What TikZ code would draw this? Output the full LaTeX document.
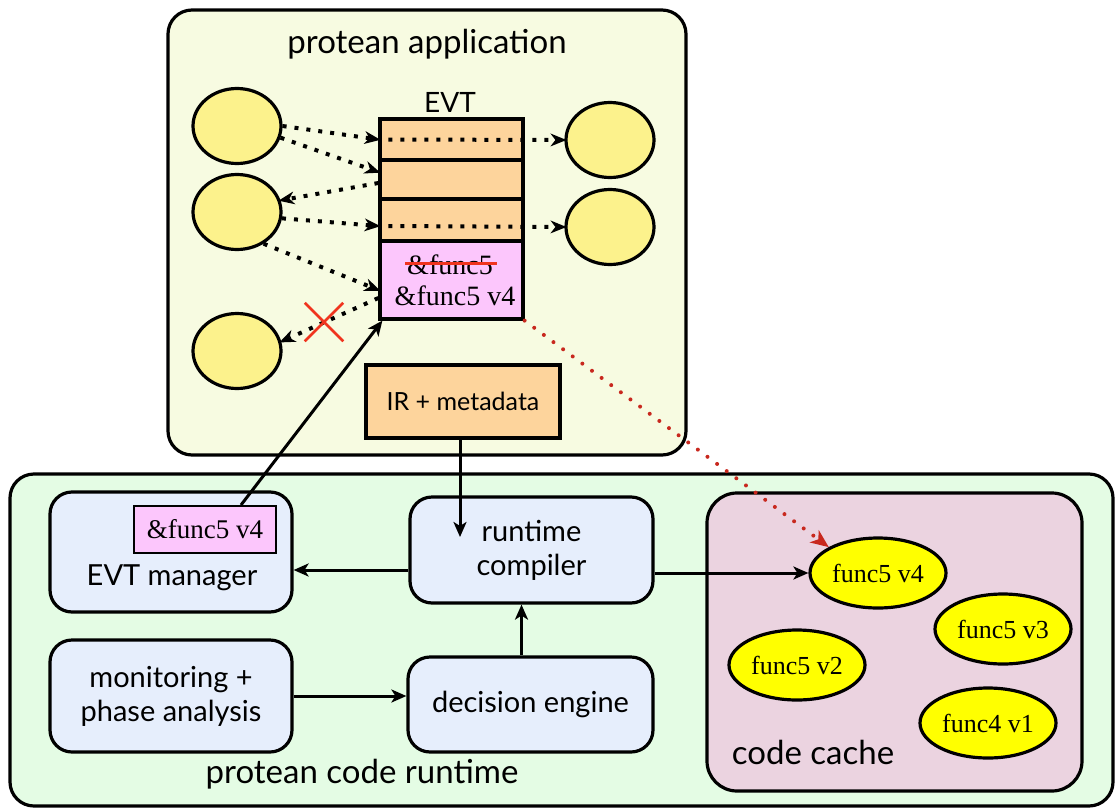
\documentclass[tikz,border=0pt]{standalone}
\usepackage{fontspec}
\setmainfont{Liberation Serif}
\newfontfamily\labelfont{Lato}
\usetikzlibrary{arrows.meta,shapes.geometric,shapes.misc,calc}

\definecolor{appfill}{HTML}{F7FBE1}
\definecolor{rtfill}{HTML}{E4FCE4}
\definecolor{boxfill}{HTML}{E6EEFC}
\definecolor{cachefill}{HTML}{EBD3E0}
\definecolor{funcyel}{HTML}{FCF28C}
\definecolor{verfill}{HTML}{FFFF00}
\definecolor{entryfill}{HTML}{FDD49C}
\definecolor{slotfill}{HTML}{FCC6FC}
\definecolor{xred}{HTML}{F0341E}
\definecolor{dotred}{HTML}{C8281E}

\tikzset{
  container/.style={draw, line width=3.2pt, rounded corners=24pt, inner sep=0pt},
  unit/.style={draw, line width=3.2pt, rounded corners=22pt, fill=boxfill, align=center,
    inner sep=0pt, font=\labelfont\fontsize{29}{34}\selectfont},
  entry/.style={draw, line width=3.2pt, fill=entryfill, inner sep=0pt, minimum width=143pt},
  fn/.style={draw, line width=3.2pt, ellipse, fill=funcyel, minimum width=88pt, minimum height=75pt, inner sep=0pt},
  ver/.style={draw, line width=3.2pt, ellipse, fill=verfill, minimum width=136pt, minimum height=70pt, inner sep=0pt,
    font=\fontsize{26}{30}\selectfont},
  title/.style={font=\labelfont\fontsize{33}{38}\selectfont, inner sep=0pt},
  dotarrow/.style={line width=4pt, dash pattern=on 4pt off 8pt, shorten >=-2pt,
    -{Stealth[length=16pt,width=13pt,inset=5pt,line width=0pt,round=false]}},
  arr/.style={line width=3pt, -{Stealth[length=15pt,width=13pt,inset=4pt]}},
  redarrow/.style={dotred, line width=4pt, line cap=round, dash pattern=on 0pt off 12pt,
    -{Stealth[length=18pt,width=15pt,inset=5pt,line cap=butt,sep=0pt]}},
}

\begin{document}
\begin{tikzpicture}[x=1pt,y=-1pt]
\useasboundingbox (0,0) rectangle (1117,809);

% the two containers
\node[container, fill=appfill, minimum width=518pt, minimum height=445pt] (app) at (427,232.5) {};
\node[title] (apptitle) at (427,44) {protean application};
\node[container, fill=rtfill, minimum width=1103pt, minimum height=332pt] (rt) at (561.5,640) {};
\node[title] (rttitle) at (362,774) {protean code runtime};

% functions of the application
\node[fn] (e1) at (237,126) {};
\node[fn] (e2) at (237,212) {};
\node[fn] (e3) at (237,351) {};
\node[fn] (r1) at (610,140) {};
\node[fn] (r2) at (610,227) {};

% the EVT
\node[font=\labelfont\fontsize{28}{32}\selectfont, inner sep=0pt] (evtlabel) at (450,102) {EVT};
\node[entry, minimum height=41pt] (row1) at (451.5,139.5) {};
\node[entry, minimum height=39pt] (row2) at (451.5,180) {};
\node[entry, minimum height=42pt] (row3) at (451.5,220) {};
\node[entry, fill=slotfill, minimum height=78pt] (slot) at (451.5,280) {};
\node[font=\fontsize{28}{32}\selectfont, inner sep=0pt] (oldptr) at (450,265) {\&func5};
\draw[xred, line width=3pt] ([xshift=-2pt]oldptr.west |- 0,263) -- ([xshift=4pt]oldptr.east |- 0,263);
\node[font=\fontsize{28}{32}\selectfont, inner sep=0pt] (newptr) at (455,296) {\&func5 v4};

% calls through the EVT
\draw[dotarrow] (e1.east) -- (row1.west);
\draw[dotarrow] (e1.-15) -- ([yshift=8pt]row2.west);
\draw[dotarrow] ([yshift=-3pt]row2.west) -- (e2.15);
\draw[dotarrow] (e2.-8) -- ([yshift=-6pt]row3.west);
\draw[dotarrow] (e2.-50) -- ([yshift=-10pt]slot.west);
\draw[dotarrow] ([yshift=-18pt]slot.west) -- (e3.12);
\draw[dotarrow] ([xshift=10pt]row1.west) -- (r1.west);
\draw[dotarrow] ([xshift=10pt,yshift=-6pt]row3.west) -- (r2.west);
\node[draw=xred, cross out, line width=2.5pt, minimum size=36pt, inner sep=0pt] (cut) at (324,322) {};

% IR
\node[draw, line width=3.2pt, fill=entryfill, minimum width=194pt, minimum height=73pt, inner sep=0pt,
  font=\labelfont\fontsize{25}{30}\selectfont] (ir) at (463,401.5) {IR + metadata};

% runtime units
\node[unit, minimum width=242pt, minimum height=120pt] (evm) at (171,552) {};
\node[draw, line width=2pt, fill=slotfill, minimum width=142pt, minimum height=47pt, inner sep=0pt,
  font=\fontsize{27}{31}\selectfont] (evp) at (205,529.5) {\&func5 v4};
\node[font=\labelfont\fontsize{29}{34}\selectfont, inner sep=0pt] (evmlabel) at (172,578) {EVT manager};
\node[unit, minimum width=243pt, minimum height=106pt] (rc) at (531.5,550) {runtime\\compiler};
\node[unit, minimum width=245pt, minimum height=95pt] (de) at (530.5,704.5) {decision engine};
\node[unit, minimum width=242pt, minimum height=112pt] (mon) at (171,696) {monitoring +\\phase analysis};

% code cache
\node[container, fill=cachefill, rounded corners=30pt, minimum width=375pt, minimum height=298pt] (cache) at (894.5,642) {};
\node[font=\labelfont\fontsize{33}{38}\selectfont, inner sep=0pt] (cachelabel) at (813,752) {code cache};
\node[ver] (v4) at (878,573) {func5 v4};
\node[ver] (v3) at (1003,629) {func5 v3};
\node[ver] (v2) at (797,665) {func5 v2};
\node[ver] (v1) at (988,723) {func4 v1};

% data flow
\coordinate (irin) at (460,537);
\draw[arr] (ir.south -| irin) -- (irin);
\draw[arr] ($(evp.north)!0.5!(evp.north east)$) -- ([xshift=4pt]slot.south west);
\draw[arr] ([yshift=-20pt]rc.west) -- ([yshift=-20pt]rc.west -| evm.east);
\draw[arr] (mon.east) -- (mon.east -| de.west);
\draw[arr] ([xshift=-9pt]de.north) -- ([xshift=-9pt]de.north |- rc.south);
\draw[arr] (rc.east |- v4.west) -- (v4.west);
\draw[redarrow] (slot.south east) -- (v4.north west);
\end{tikzpicture}
\end{document}
